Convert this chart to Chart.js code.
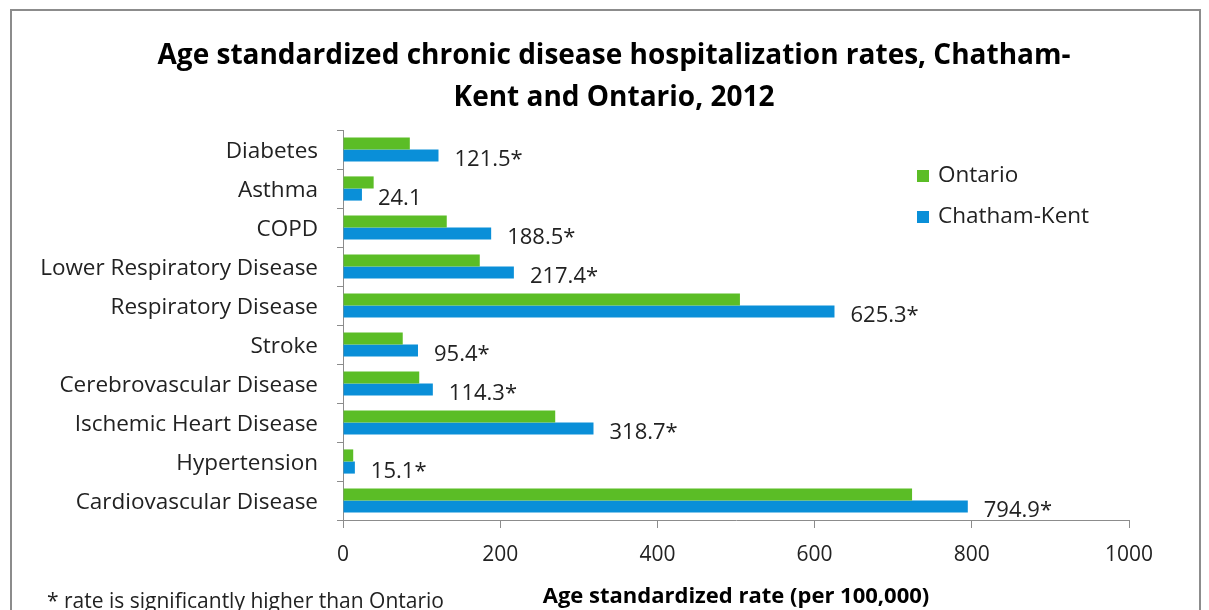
<!DOCTYPE html>
<html lang="en">
<head>
<meta charset="UTF-8">
<title>Chronic disease hospitalization rates</title>
<script src="https://cdn.jsdelivr.net/npm/chart.js"></script>
<style>
    html, body { margin: 0; padding: 0; background: #fff; }
    #wrap { position: relative; width: 1209px; height: 610px; }
</style>
</head>
<body>
<div id="wrap"><canvas id="rates" width="1209" height="610"></canvas></div>
<script>
// Hospitalization rates per 100,000, 2012
const categories = ['Diabetes', 'Asthma', 'COPD', 'Lower Respiratory Disease', 'Respiratory Disease',
    'Stroke', 'Cerebrovascular Disease', 'Ischemic Heart Disease', 'Hypertension', 'Cardiovascular Disease'];
const ontario = [85, 39, 132, 174, 505, 76, 97, 270, 13, 724];
const chathamKent = [121.5, 24.1, 188.5, 217.4, 625.3, 95.4, 114.3, 318.7, 15.1, 794.9];
// * marks a rate significantly higher than Ontario
const significant = [true, false, true, true, true, true, true, true, true, true];
const xTicks = [0, 200, 400, 600, 800, 1000];

const FONT = "'Open Sans', 'Liberation Sans', sans-serif";
const GREEN = '#5BBD26';
const BLUE = '#0A8FD8';

const extras = {
    id: 'extras',
    beforeDraw(chart) {
        const ctx = chart.ctx;
        ctx.save();
        ctx.fillStyle = '#fff';
        ctx.fillRect(0, 0, chart.width, chart.height);
        // outer frame
        ctx.strokeStyle = '#8c8c8c';
        ctx.lineWidth = 2;
        ctx.strokeRect(11, 10, 1189, 640);
        ctx.restore();
    },
    afterDraw(chart) {
        const ctx = chart.ctx;
        ctx.save();
        ctx.fillStyle = '#000';
        ctx.textAlign = 'center';
        ctx.textBaseline = 'middle';
        ctx.font = 'bold 28px ' + FONT;
        ctx.fillText('Age standardized chronic disease hospitalization rates, Chatham-', 614, 56);
        ctx.fillText('Kent and Ontario, 2012', 614, 98);

        // legend
        const items = [['Ontario', GREEN, 176], ['Chatham-Kent', BLUE, 217]];
        ctx.textAlign = 'left';
        ctx.font = '22.5px ' + FONT;
        items.forEach(([name, color, y]) => {
            ctx.fillStyle = color;
            ctx.fillRect(917, y - 6, 12, 12);
            ctx.fillStyle = '#222';
            ctx.fillText(name, 938, y);
        });

        // footnote
        ctx.font = '21px ' + FONT;
        ctx.fillStyle = '#222';
        ctx.fillText('* rate is significantly higher than Ontario', 47, 602);
        ctx.restore();
    },
    afterDatasetsDraw(chart) {
        const ctx = chart.ctx;
        const meta = chart.getDatasetMeta(1);
        ctx.save();
        ctx.font = '22px ' + FONT;
        ctx.fillStyle = '#222';
        ctx.textAlign = 'left';
        ctx.textBaseline = 'middle';
        meta.data.forEach((bar, i) => {
            const label = chathamKent[i].toFixed(1) + (significant[i] ? '*' : '');
            ctx.fillText(label, bar.x + 16, bar.y + 4);
        });
        ctx.restore();
    }
};

new Chart(document.getElementById('rates'), {
    type: 'bar',
    data: {
        labels: categories,
        datasets: [
            { label: 'Ontario', data: ontario, backgroundColor: GREEN },
            { label: 'Chatham-Kent', data: chathamKent, backgroundColor: BLUE }
        ]
    },
    options: {
        indexAxis: 'y',
        responsive: false,
        animation: false,
        layout: { padding: { left: 0, right: 80, top: 130, bottom: 0 } },
        datasets: { bar: { categoryPercentage: 0.62, barPercentage: 1.0 } },
        plugins: {
            legend: { display: false },
            tooltip: { enabled: false }
        },
        scales: {
            x: {
                min: 0,
                max: 1000,
                afterFit(scale) { scale.height = 90; },
                afterBuildTicks(scale) { scale.ticks = xTicks.map(v => ({ value: v })); },
                grid: { drawOnChartArea: false, color: '#8c8c8c', tickLength: 8 },
                border: { color: '#8c8c8c', width: 1 },
                ticks: {
                    color: '#222',
                    font: { family: FONT, size: 21 },
                    padding: 14,
                    callback: v => String(v)
                },
                title: {
                    display: true,
                    text: 'Age standardized rate (per 100,000)',
                    color: '#000',
                    font: { family: FONT, size: 22, weight: 'bold' },
                    padding: { top: 0, bottom: 0 }
                }
            },
            y: {
                afterFit(scale) { scale.width = 343; },
                grid: { drawOnChartArea: false, color: '#8c8c8c', tickLength: 6, offset: true },
                border: { color: '#8c8c8c', width: 1 },
                ticks: { color: '#222', font: { family: FONT, size: 22.5 }, padding: 19, labelOffset: 2 }
            }
        }
    },
    plugins: [extras]
});
</script>
</body>
</html>
